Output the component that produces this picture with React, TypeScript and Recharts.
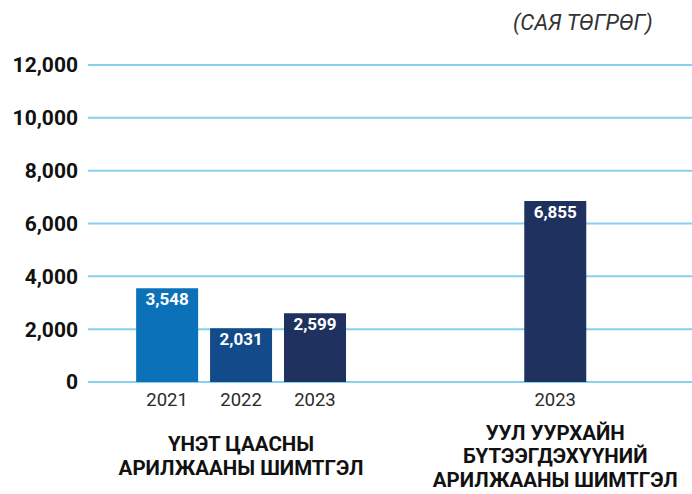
import { BarChart, Bar, XAxis, YAxis, CartesianGrid, Cell, LabelList } from 'recharts';

const years = ['2021', '2022', '2023', '2023'];
const values = [3548, 2031, 2599, 6855];
const slots = [1, 2, 3, 6.25];
const barColors = ['#0b72b9', '#134a8a', '#1f315f', '#1f315f'];
const yTicks = [0, 2000, 4000, 6000, 8000, 10000, 12000];
const groupSlots = [2, 6.25];
const groupLabels = [
  ['ҮНЭТ ЦААСНЫ', 'АРИЛЖААНЫ ШИМТГЭЛ'],
  ['УУЛ УУРХАЙН', 'БҮТЭЭГДЭХҮҮНИЙ', 'АРИЛЖААНЫ ШИМТГЭЛ'],
];

const data = years.map((year, i) => ({ year, value: values[i], slot: slots[i] }));

const font = 'Roboto, "Noto Sans", sans-serif';

function YearTick({ x, y, payload }: any) {
  const i = slots.indexOf(payload.value);
  return (
    <text x={x} y={y + 15} textAnchor="middle" fontFamily={font} fontSize={18.5} fill="#2a2a2a">
      {years[i]}
    </text>
  );
}

// group captions sit below the year labels, centred on their bars
function GroupTick({ x, y, payload }: any) {
  const i = groupSlots.indexOf(payload.value);
  const lines = groupLabels[i] || [];
  const lh = 23.5;
  const top = y + 66 - ((lines.length - 1) * lh) / 2;
  return (
    <text textAnchor="middle" fontFamily={font} fontSize={20.5} fontWeight={700} fill="#111">
      {lines.map((l, k) => (
        <tspan key={k} x={x} y={top + k * lh + 7}>
          {l}
        </tspan>
      ))}
    </text>
  );
}

export default function App() {
  return (
    <div style={{ position: 'absolute', left: 0, top: 0, width: 692, height: 494, background: '#fff' }}>
      <div
        style={{
          position: 'absolute',
          left: 513,
          top: 10,
          fontFamily: font,
          fontStyle: 'italic',
          fontSize: 22,
          color: '#333',
        }}
      >
        (САЯ ТӨГРӨГ)
      </div>
      <BarChart width={692} height={494} data={data} margin={{ top: 65, right: 0, bottom: 0, left: 0 }}>
        <CartesianGrid vertical={false} stroke="#86d0ee" strokeWidth={2} />
        <XAxis
          xAxisId="year"
          type="number"
          dataKey="slot"
          domain={[-0.07, 8.1]}
          ticks={slots}
          tick={<YearTick />}
          axisLine={false}
          tickLine={false}
          height={111}
        />
        <XAxis
          xAxisId="group"
          type="number"
          dataKey="slot"
          domain={[-0.07, 8.1]}
          ticks={groupSlots}
          tick={<GroupTick />}
          axisLine={false}
          tickLine={false}
          height={1}
        />
        <YAxis
          domain={[0, 12000]}
          ticks={yTicks}
          width={88}
          axisLine={false}
          tickLine={false}
          tickMargin={4}
          tickFormatter={(v: number) => v.toLocaleString('en-US')}
          tick={{ fontFamily: font, fontSize: 21, fontWeight: 700, fill: '#111' }}
        />
        <Bar xAxisId="year" dataKey="value" barSize={62} isAnimationActive={false}>
          {data.map((d, i) => (
            <Cell key={i} fill={barColors[i]} />
          ))}
          <LabelList
            dataKey="value"
            position="insideTop"
            offset={5}
            formatter={(v: any) => Number(v).toLocaleString('en-US')}
            style={{ fontFamily: font, fontSize: 17, fontWeight: 700, fill: '#fff' }}
          />
        </Bar>
      </BarChart>
    </div>
  );
}
